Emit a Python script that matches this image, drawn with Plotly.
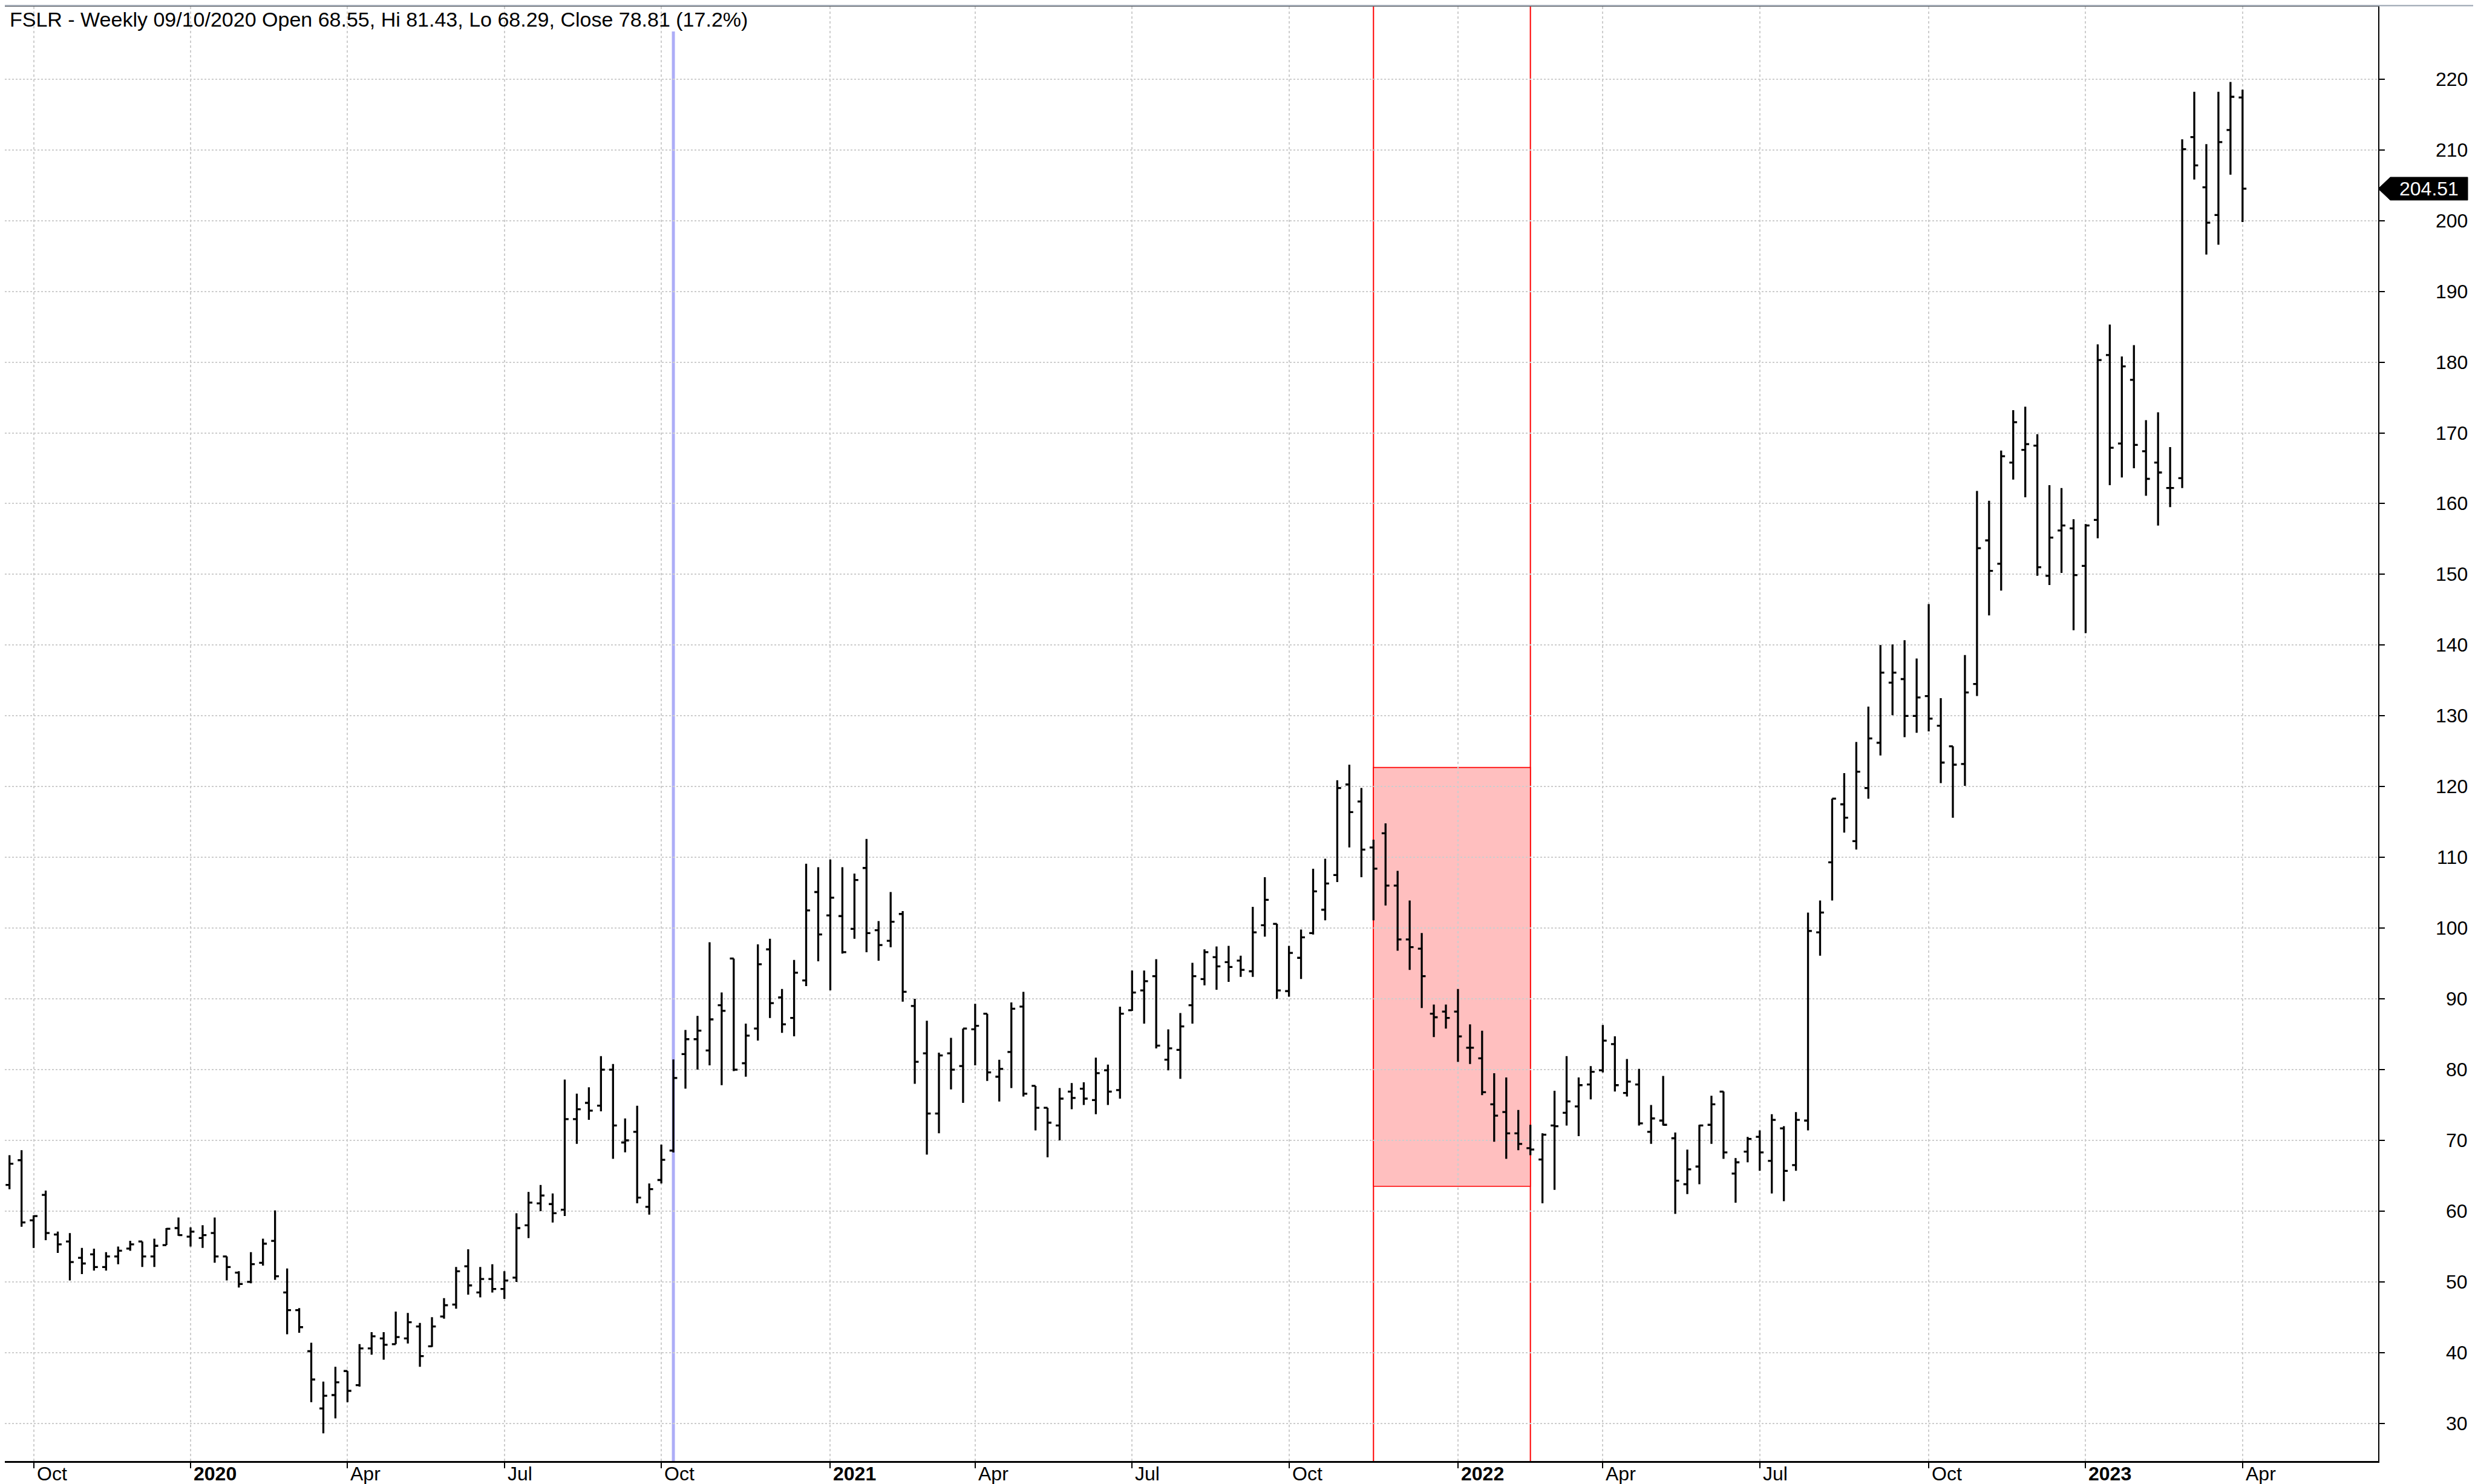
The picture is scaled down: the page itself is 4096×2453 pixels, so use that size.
import pandas as pd
import plotly.graph_objects as go

# ---------------- data ----------------
# weekly bars (week ending Friday)
week = pd.date_range("2019-09-20", periods=186, freq="W-FRI")

open_ = [
    63.7, 67.2, 58.7, 62.3, 56.7, 55.7, 53.4, 53.9, 52.1, 53.6,
    54.7, 55.7, 53.6, 55.2, 57.6, 56.4, 56.2, 56.9, 53.6, 51.3,
    50.0, 52.7, 55.8, 48.5, 46.0, 40.2, 32.1, 34.0, 37.4, 35.4,
    40.6, 42.0, 41.2, 42.0, 43.7, 40.9, 45.1, 46.8, 52.2, 48.5,
    50.4, 49.0, 50.6, 58.0, 61.1, 61.0, 60.2, 73.0, 75.3, 74.9,
    80.0, 69.7, 71.2, 60.6, 64.4, 68.55, 82.2, 84.3, 82.7, 89.1,
    95.7, 80.9, 85.8, 97.0, 90.2, 87.3, 92.6, 105.1, 101.8, 101.7,
    99.9, 108.5, 99.7, 98.2, 102.0, 89.0, 82.3, 73.8, 82.3, 80.5,
    85.7, 87.9, 79.0, 82.5, 88.9, 77.7, 74.6, 72.1, 76.9, 77.3,
    75.7, 79.9, 77.1, 88.4, 91.2, 93.2, 81.4, 82.8, 89.1, 92.8,
    95.9, 95.2, 95.4, 93.9, 100.4, 100.6, 91.1, 95.8, 99.3, 102.6,
    107.5, 120.3, 117.9, 111.4, 113.4, 106.0, 98.4, 97.1, 87.9, 88.2,
    88.2, 83.1, 81.6, 75.1, 74.0, 71.0, 68.9, 67.3, 72.1, 73.9,
    74.8, 77.9, 79.9, 83.6, 76.7, 77.9, 71.2, 72.8, 70.3, 63.8,
    66.3, 72.2, 76.9, 65.3, 68.4, 70.5, 67.1, 71.7, 66.5, 72.8,
    99.4, 109.3, 117.5, 112.3, 119.8, 126.2, 134.7, 135.2, 130.0, 132.8,
    128.6, 125.7, 123.2, 134.5, 154.8, 151.5, 165.8, 167.6, 168.2, 149.8,
    156.2, 156.5, 151.2, 157.7, 181.0, 168.5, 177.5, 167.4, 165.8, 162.2,
    163.6, 211.8, 204.7, 200.8, 212.8, 217.4,
]
high = [
    67.9, 68.6, 59.4, 62.9, 57.1, 56.9, 54.8, 54.7, 54.2, 55.0,
    55.8, 55.7, 56.1, 57.6, 59.1, 57.7, 58.0, 59.1, 53.6, 51.5,
    54.2, 56.1, 60.1, 51.9, 46.3, 41.4, 35.9, 38.0, 37.4, 41.2,
    42.9, 42.9, 45.8, 45.6, 44.2, 45.0, 47.7, 52.1, 54.6, 52.1,
    52.5, 51.5, 59.7, 62.7, 63.7, 62.5, 78.6, 76.6, 77.5, 81.9,
    80.8, 73.1, 74.9, 63.9, 69.4, 81.43, 85.6, 87.6, 98.0, 90.9,
    95.7, 86.5, 97.7, 98.5, 91.4, 95.5, 109.1, 108.6, 109.7, 108.6,
    107.7, 112.6, 101.0, 105.1, 102.4, 90.0, 86.9, 82.4, 84.5, 85.8,
    89.3, 87.9, 81.4, 89.5, 91.0, 77.7, 74.6, 77.4, 78.1, 78.2,
    81.7, 80.7, 88.9, 94.0, 94.0, 95.6, 85.7, 88.0, 95.1, 97.0,
    97.4, 97.5, 96.1, 103.0, 107.2, 100.6, 97.5, 99.8, 108.4, 109.8,
    120.9, 123.1, 119.8, 112.5, 114.8, 108.1, 103.9, 99.3, 89.2, 89.2,
    91.4, 86.4, 85.5, 79.5, 78.9, 74.3, 72.2, 71.0, 77.0, 81.9,
    78.9, 80.5, 86.3, 84.7, 81.5, 80.1, 75.0, 79.1, 71.1, 68.7,
    72.2, 76.3, 76.9, 67.5, 70.5, 71.4, 73.7, 72.0, 74.0, 102.2,
    103.9, 118.3, 121.9, 126.3, 131.3, 140.0, 140.1, 140.7, 138.1, 145.8,
    132.5, 125.7, 138.6, 161.8, 160.4, 167.5, 173.2, 173.7, 169.8, 162.6,
    162.2, 157.8, 157.1, 182.5, 185.3, 180.8, 182.4, 171.8, 172.9, 168.0,
    211.5, 218.2, 210.8, 218.2, 219.6, 218.5,
]
low = [
    63.1, 57.8, 54.8, 55.9, 54.1, 50.2, 51.1, 51.6, 51.6, 52.5,
    54.4, 52.1, 52.1, 55.2, 56.5, 55.0, 54.8, 52.7, 50.2, 49.2,
    49.8, 52.3, 50.3, 42.6, 42.8, 33.0, 28.6, 30.7, 33.0, 35.2,
    39.7, 39.0, 41.2, 41.3, 38.0, 40.8, 44.8, 46.2, 48.2, 47.8,
    48.5, 47.6, 50.0, 56.2, 60.0, 58.4, 59.3, 69.5, 72.9, 74.1,
    67.4, 68.3, 61.1, 59.5, 63.9, 68.29, 77.3, 80.0, 80.6, 77.8,
    79.8, 79.0, 84.1, 87.3, 85.2, 84.7, 91.8, 95.3, 91.2, 96.4,
    98.5, 96.6, 95.4, 97.3, 89.6, 78.0, 68.0, 71.0, 77.2, 75.3,
    80.6, 78.4, 75.5, 77.4, 76.2, 71.4, 67.6, 70.0, 74.4, 75.0,
    73.7, 75.0, 75.9, 88.3, 86.5, 83.0, 79.9, 78.7, 86.5, 91.9,
    91.3, 92.4, 93.1, 93.1, 98.8, 90.0, 90.3, 92.8, 99.1, 101.1,
    106.5, 111.4, 107.2, 101.1, 103.2, 96.8, 94.1, 88.7, 84.6, 85.8,
    81.1, 80.8, 76.4, 69.8, 67.4, 68.6, 67.9, 61.1, 63.0, 72.1,
    70.6, 75.8, 79.6, 76.9, 76.2, 72.1, 69.5, 72.1, 59.6, 62.4,
    63.8, 69.5, 67.4, 61.2, 66.9, 65.7, 62.5, 61.4, 65.7, 71.4,
    96.1, 103.9, 113.5, 111.1, 118.3, 124.4, 130.1, 127.0, 127.6, 127.8,
    120.5, 115.6, 120.1, 132.8, 144.2, 147.7, 163.4, 160.9, 149.8, 148.5,
    150.2, 142.1, 141.7, 155.1, 162.6, 163.7, 165.0, 161.1, 156.9, 159.5,
    162.2, 205.8, 195.2, 196.6, 206.5, 199.8,
]
close = [
    66.7, 58.4, 59.3, 56.9, 55.3, 52.8, 52.6, 52.1, 53.6, 54.4,
    55.3, 53.6, 55.1, 57.5, 56.6, 57.1, 56.6, 53.6, 52.1, 49.7,
    52.5, 55.4, 50.8, 46.0, 43.6, 36.2, 33.9, 35.8, 34.6, 40.6,
    42.3, 41.1, 42.2, 44.3, 39.5, 43.7, 46.7, 51.5, 49.5, 50.4,
    49.0, 50.2, 57.6, 61.2, 62.2, 59.7, 73.0, 74.4, 74.2, 80.0,
    72.1, 70.0, 61.9, 63.1, 67.25, 78.81, 84.3, 85.5, 87.1, 88.3,
    80.0, 84.8, 94.9, 89.4, 86.4, 93.7, 102.5, 99.1, 104.3, 96.6,
    106.8, 99.3, 97.6, 100.9, 91.0, 81.1, 73.8, 82.0, 80.0, 85.8,
    86.2, 79.6, 80.1, 88.6, 76.6, 74.6, 72.5, 75.9, 76.0, 75.9,
    79.5, 76.9, 87.9, 90.9, 92.5, 83.4, 83.0, 86.1, 93.2, 96.6,
    94.6, 94.5, 94.1, 99.4, 104.0, 91.2, 96.5, 98.7, 105.2, 106.3,
    119.8, 116.4, 111.1, 108.4, 106.0, 98.4, 97.3, 93.2, 87.4, 87.3,
    84.7, 83.1, 76.8, 73.5, 71.0, 69.5, 68.7, 70.8, 72.0, 75.5,
    77.8, 79.7, 84.1, 77.8, 78.3, 72.4, 73.1, 72.2, 64.3, 65.9,
    72.1, 75.1, 68.3, 66.9, 70.2, 68.3, 72.9, 65.7, 72.9, 99.6,
    102.2, 118.3, 115.6, 122.1, 126.8, 136.1, 136.1, 130.0, 132.6, 129.6,
    123.4, 123.1, 133.3, 153.7, 150.5, 166.7, 171.5, 168.4, 151.0, 155.2,
    156.9, 149.9, 156.9, 180.3, 167.9, 179.4, 168.3, 163.5, 164.4, 162.2,
    210.1, 207.8, 199.7, 211.1, 217.5, 204.51,
]

# first weekly bar of each quarter (gridlines / axis labels)
tick_weeks = ["2019-10-04", "2020-01-03", "2020-04-03", "2020-07-03", "2020-10-02",
              "2021-01-08", "2021-04-02", "2021-07-02", "2021-10-01", "2022-01-07",
              "2022-04-01", "2022-07-01", "2022-10-07", "2023-01-06", "2023-04-07"]
tick_text = ["Oct", "2020", "Apr", "Jul", "Oct", "2021", "Apr", "Jul", "Oct", "2022",
             "Apr", "Jul", "Oct", "2023", "Apr"]
tick_bold = [False, True, False, False, False, True, False, False, False, True,
             False, False, False, True, False]
y_ticks = list(range(30, 221, 10))

marker_week = "2020-10-09"          # blue vertical marker
zone_start, zone_end = "2021-11-19", "2022-02-18"   # red zone
zone_low, zone_high = 63.5, 122.7
last_price = 204.51
title_text = "FSLR - Weekly 09/10/2020 Open 68.55, Hi 81.43, Lo 68.29, Close 78.81 (17.2%)"

# ---------------- figure ----------------
W, H = 4096, 2453
ML, MR, MT, MB = 0, 173, 3, 46
PW, PH = W - ML - MR, H - MT - MB
FONT = "Liberation Sans, Arial, sans-serif"

xpos = list(range(len(week)))
def idx(d):
    return int(week.get_loc(pd.Timestamp(d)))

tick_idx = [idx(d) for d in tick_weeks]

fig = go.Figure()
fig.add_trace(go.Ohlc(
    x=xpos, open=open_, high=high, low=low, close=close,
    increasing=dict(line=dict(color="black", width=3.3)),
    decreasing=dict(line=dict(color="black", width=3.3)),
    tickwidth=0.32, showlegend=False, hoverinfo="skip",
))

shapes = []
# red zone rectangle (below gridlines)
shapes.append(dict(type="rect", xref="x", yref="y", x0=idx(zone_start), x1=idx(zone_end),
                   y0=zone_low, y1=zone_high, fillcolor="#ffbfbf",
                   line=dict(color="#ff0000", width=1.6), layer="below"))
# blue marker line
shapes.append(dict(type="line", xref="x", yref="paper", x0=idx(marker_week), x1=idx(marker_week),
                   y0=0, y1=1, line=dict(color="#adadf7", width=5), layer="between"))
# white header band (title area, hides gridlines)
shapes.append(dict(type="rect", xref="paper", yref="paper", x0=0, x1=1,
                   y0=1 - 41 / PH, y1=1, fillcolor="white", line=dict(width=0), layer="between"))
# red zone vertical lines
for d in (zone_start, zone_end):
    shapes.append(dict(type="line", xref="x", yref="paper", x0=idx(d), x1=idx(d),
                       y0=0, y1=1, line=dict(color="#ff0000", width=2), layer="between"))
# gray frame strips (right and top)
shapes.append(dict(type="rect", xref="paper", yref="paper", x0=1 + 159 / PW, x1=1 + MR / PW + 0.01,
                   y0=-MB / PH - 0.01, y1=1 + MT / PH + 0.01, fillcolor="#a9b2bd",
                   line=dict(width=0), layer="above"))
shapes.append(dict(type="rect", xref="paper", yref="paper", x0=-0.01, x1=1 + MR / PW + 0.01,
                   y0=1 + 0.5 / PH, y1=1 + MT / PH + 0.01, fillcolor="#a9b2bd",
                   line=dict(width=0), layer="above"))
# last price tag (arrow box)
u = 1.62
x_tip, x_box, x_end = 1.0, 1 + 20 / PW, 1 + 148 / PW
shapes.append(dict(type="path", xref="paper", yref="y",
                   path=f"M {x_tip},{last_price} L {x_box},{last_price + u} L {x_end},{last_price + u} "
                        f"L {x_end},{last_price - u} L {x_box},{last_price - u} Z",
                   fillcolor="black", line=dict(color="black", width=1), layer="above"))

annotations = []
annotations.append(dict(text=title_text, xref="paper", yref="paper", x=0, y=1,
                        xanchor="left", yanchor="top", xshift=6, yshift=0, showarrow=False,
                        font=dict(family=FONT, size=34, color="black")))
annotations.append(dict(text=f"{last_price:.2f}", xref="paper", yref="y", x=1 + 84 / PW, y=last_price,
                        xanchor="center", yanchor="middle", showarrow=False,
                        font=dict(family=FONT, size=32, color="white")))
for v in y_ticks:
    annotations.append(dict(text=str(v), xref="paper", yref="y", x=1 + 150 / PW, y=v,
                            xanchor="right", yanchor="middle", showarrow=False,
                            font=dict(family=FONT, size=32, color="black")))
for t, lab, b in zip(tick_idx, tick_text, tick_bold):
    annotations.append(dict(text=f"<b>{lab}</b>" if b else lab, xref="x", yref="paper", x=t, y=0,
                            xanchor="left", yanchor="top", xshift=3, yshift=-1, showarrow=False,
                            font=dict(family=FONT, size=32, color="black")))

sp = 23.2 * 0.86
x0 = -7.7 / sp
x1 = x0 + PW / sp

fig.update_layout(
    width=W, height=H,
    margin=dict(l=ML, r=MR, t=MT, b=MB, pad=0),
    paper_bgcolor="white", plot_bgcolor="white",
    shapes=shapes, annotations=annotations,
    showlegend=False,
    xaxis=dict(type="linear", range=[x0, x1], tickmode="array", tickvals=tick_idx,
               showticklabels=False, ticks="outside", ticklen=9, tickwidth=2, tickcolor="black",
               showgrid=True, gridcolor="#cdcdcd", gridwidth=1.5, griddash="4px,4px",
               showline=True, linecolor="black", linewidth=2.5, mirror=True,
               zeroline=False, rangeslider=dict(visible=False), fixedrange=True),
    yaxis=dict(side="right", range=[24.68, 230.24], tickmode="array", tickvals=y_ticks,
               showticklabels=False, ticks="outside", ticklen=9, tickwidth=2, tickcolor="black",
               showgrid=True, gridcolor="#cdcdcd", gridwidth=1.5, griddash="dot",
               showline=True, linecolor="black", linewidth=2,
               zeroline=False, fixedrange=True),
)

fig.write_html("out.html")
